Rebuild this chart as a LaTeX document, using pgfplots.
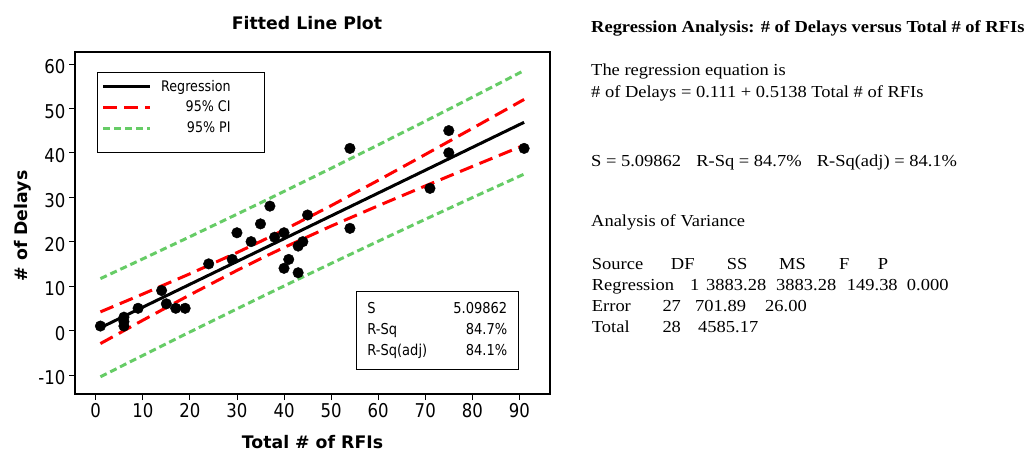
\documentclass[border=0pt]{standalone}
\usepackage{pgfplots}
\usepackage{pgfplotstable}
\pgfplotsset{compat=1.18}
\usepackage{fontspec}
\setmainfont{DejaVu Sans}
\newfontfamily\tah[FakeStretch=0.87]{DejaVu Sans}
\newfontfamily\tnr[FakeStretch=1.1]{Liberation Serif}
\definecolor{pigreen}{RGB}{102,204,102}

\pgfplotstableread{
x y
1 1
6 3
6 1
6 2
9 5
14 9
15 6
17 5
19 5
24 15
29 16
30 22
33 20
35 24
37 28
38 21
40 22
40 14
41 16
43 13
43 19
44 20
45 26
54 41
54 23
71 32
75 45
75 40
91 41
}\pts

\pgfplotstableread{
x fit ciu cil piu pil
1 0.62 4.19 -2.95 11.68 -10.43
10 5.25 8.20 2.30 16.12 -5.62
20 10.39 12.76 8.02 21.11 -0.34
30 15.53 17.53 13.52 26.18 4.87
35.69 18.45 20.39 16.51 29.09 7.81
40 20.66 22.64 18.68 31.31 10.02
50 25.80 28.10 23.50 36.51 15.09
60 30.94 33.80 28.08 41.79 20.09
70 36.08 39.62 32.54 47.12 25.03
80 41.22 45.50 36.93 52.52 29.91
91 46.87 52.02 41.72 58.53 35.21
}\lines

\newcommand\T[3]{\node[anchor=base west, inner sep=0pt] at (#1pt,-#2pt) {#3};}

\begin{document}
\begin{tikzpicture}
\path[use as bounding box] (0pt,0pt) rectangle (1030pt,-452pt);
\begin{axis}[
  at={(75pt,-394pt)}, anchor=south west,
  scale only axis, width=475pt, height=342pt,
  xmin=-4.4, xmax=96.5, ymin=-14.3, ymax=62.7,
  xtick={0,10,...,90}, ytick={-10,0,...,60},
  tick align=outside, xtick pos=bottom, ytick pos=left,
  major tick length=6pt,
  tick style={black, line width=0.8pt},
  axis line style={black, line width=1.1pt},
  ticklabel style={font=\tah\fontsize{19}{21}\selectfont},
  yticklabel style={yshift=-3pt},
  /pgf/number format/assume math mode=true,
  title={Fitted Line Plot},
  title style={font=\bfseries\fontsize{17.3}{20}\selectfont,
    at={([xshift=-5.5pt,yshift=23pt]rel axis cs:0.5,1)}, anchor=center},
  xlabel={Total \# of RFIs},
  xlabel style={font=\bfseries\fontsize{17.3}{20}\selectfont,
    at={([yshift=-48pt]rel axis cs:0.5,0)}, anchor=center},
  ylabel={\# of Delays},
  ylabel style={font=\bfseries\fontsize{17.3}{20}\selectfont,
    at={([xshift=-52.5pt,yshift=-3pt]rel axis cs:0,0.5)}, anchor=center},
  legend style={at={(axis cs:0.3,58.3)}, anchor=north west, draw=black, line width=0.8pt,
    font=\tah\fontsize{14.6}{16}\selectfont, cells={anchor=east}, row sep=4.5pt, inner xsep=4pt, inner ysep=6pt},
  legend image code/.code={\draw[#1] (0pt,0pt) -- (46.6pt,0pt);},
]
\addplot[black, line width=3pt] table[x=x, y=fit] {\lines};
\addlegendentry{\hspace*{8pt}Regression\hspace*{28pt}}
\addplot[red, line width=3pt, dash pattern=on 14pt off 7pt] table[x=x, y=ciu] {\lines};
\addlegendentry{95\% CI\hspace*{28pt}}
\addplot[pigreen, line width=3pt, dash pattern=on 7pt off 4pt] table[x=x, y=piu] {\lines};
\addlegendentry{95\% PI\hspace*{28pt}}
\addlegendimage{empty legend}
\addlegendentry{}
\addplot[red, line width=3pt, dash pattern=on 14pt off 7pt, forget plot] table[x=x, y=cil] {\lines};
\addplot[pigreen, line width=3pt, dash pattern=on 7pt off 4pt, forget plot] table[x=x, y=pil] {\lines};
\addplot[only marks, mark=*, mark size=5.3pt, black, forget plot] table[x=x, y=y] {\pts};
\node[draw=black, line width=0.8pt, anchor=north west, inner xsep=11pt, inner ysep=0pt,
  text width=140pt, minimum height=78.3pt, align=left, font=\tah\fontsize{15}{21}\selectfont]
  at (axis cs:55.27,8.9)
  {\makebox[140pt]{S\hfill 5.09862}\\\makebox[140pt]{R-Sq\hfill 84.7\%}\\\makebox[140pt]{R-Sq(adj)\hfill 84.1\%}};
\end{axis}
\begin{scope}[font=\tnr\fontsize{16.8}{18}\selectfont]
\T{591}{32.7}{\bfseries Regression Analysis: \# of Delays versus Total \# of RFIs}
\T{591}{75}{The regression equation is}
\T{591}{97}{\# of Delays = 0.111 + 0.5138 Total \# of RFIs}
\T{591}{166.5}{S = 5.09862\hspace{0.9em}R-Sq = 84.7\%\hspace{0.9em}R-Sq(adj) = 84.1\%}
\T{591}{226}{Analysis of Variance}
\T{591.7}{269}{Source}\T{670.7}{269}{DF}\T{726.7}{269}{SS}\T{779}{269}{MS}\T{839}{269}{F}\T{877.7}{269}{P}
\T{591.7}{290}{Regression}\T{690}{290}{1}\T{706}{290}{3883.28}\T{776}{290}{3883.28}\T{846.7}{290}{149.38}\T{906.7}{290}{0.000}
\T{591.7}{311.5}{Error}\T{662.3}{311.5}{27}\T{695}{311.5}{701.89}\T{765}{311.5}{26.00}
\T{591.7}{332.5}{Total}\T{662.3}{332.5}{28}\T{698}{332.5}{4585.17}
\end{scope}
\end{tikzpicture}
\end{document}
